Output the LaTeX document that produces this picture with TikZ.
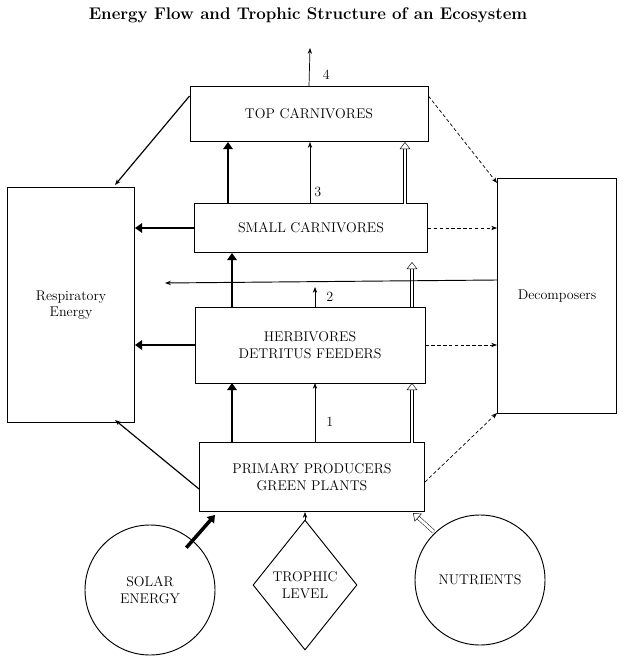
\documentclass[tikz,border=0pt]{standalone}
\usetikzlibrary{arrows.meta,shapes.geometric}
\begin{document}
\begin{tikzpicture}[x=0.03cm,y=-0.03cm,font=\large,
  box/.style={draw,thick,fill=white,align=center},
  flow/.style={semithick,-{Stealth[length=5pt]}},
  bigflow/.style={line width=2.5pt,-{Triangle[length=6pt,width=8pt]}},
  nutflow/.style={double,double distance=2.5pt,-{Triangle[open,length=6pt,width=9pt]}},
  decay/.style={semithick,densely dashed,-{Stealth[length=5pt]}}]
\useasboundingbox (0,0) rectangle (626,657);
\node[font=\bfseries\Large] (title) at (308,15) {Energy Flow and Trophic Structure of an Ecosystem};
%boxes
\node[box,minimum width=238*0.03cm,minimum height=55*0.03cm] (top) at (309,114) {TOP CARNIVORES};
\node[box,minimum width=233*0.03cm,minimum height=49*0.03cm] (small) at (311,228) {SMALL CARNIVORES};
\node[box,minimum width=230*0.03cm,minimum height=76*0.03cm] (herb) at (310,345) {HERBIVORES\\DETRITUS FEEDERS};
\node[box,minimum width=225*0.03cm,minimum height=69*0.03cm] (prim) at (312,477) {PRIMARY PRODUCERS\\GREEN PLANTS};
\node[box,minimum width=127*0.03cm,minimum height=235*0.03cm] (resp) at (71,305) {Respiratory\\Energy};
\node[box,minimum width=119*0.03cm,minimum height=235*0.03cm] (dec) at (557,296) {Decomposers};
\node[draw,thick,circle,minimum size=130*0.03cm,align=center] (sun) at (150,590) {SOLAR\\ENERGY};
\node[draw,thick,diamond,minimum width=104*0.03cm,minimum height=130*0.03cm,align=center,inner sep=0pt] (troph) at (305,585) {TROPHIC\\LEVEL};
\node[draw,thick,circle,minimum size=130*0.03cm] (nutr) at (480,580) {NUTRIENTS};
%upward flow
\coordinate (out4) at (310,48);
\draw[flow] (top.north) -- (out4) node[pos=0.3,right=8pt] {4};
\draw[bigflow] (228,204) -- (228,142);
\draw[flow] (310,204) -- (310,142) node[pos=0.2,right] {3};
\draw[nutflow] (405,204) -- (405,142);
\draw[bigflow] (232,307) -- (232,253);
\draw[flow] (315,307) -- (315,287) node[midway,right=6pt] {2};
\draw[nutflow] (412,307) -- (412,262);
\draw[bigflow] (232,443) -- (232,383);
\draw[flow] (315,443) -- (315,383) node[pos=0.35,right=6pt] {1};
\draw[nutflow] (412,443) -- (412,383);
%respiration
\draw[bigflow,line width=1.5pt] (small.west) -- (resp.east |- small.west);
\draw[bigflow,line width=1.5pt] (herb.west) -- (resp.east |- herb.west);
\draw[flow,thick] (dec.west |- 0,280) -- (165,283);
\draw[flow,line width=1pt] (top.north west) ++(0,10) -- (115,185);
\draw[flow,line width=1pt] (prim.west) ++(0,12) -- (115,420);
%decomposition
\draw[decay] (top.north east) ++(0,10) -- (497,183);
\draw[decay] (small.east) -- (dec.west |- small.east);
\draw[decay] (herb.east) -- (dec.west |- herb.east);
\draw[decay] (prim.east) ++(0,5) -- (497,413);
%inputs
\draw[bigflow,line width=3pt] (sun.north east) ++(-10,4) -- (215,515);
\draw[flow] (troph.north) -- (305,512);
\draw[nutflow] (nutr.north west) ++(0,-2) -- (413,513);
\end{tikzpicture}
\end{document}
